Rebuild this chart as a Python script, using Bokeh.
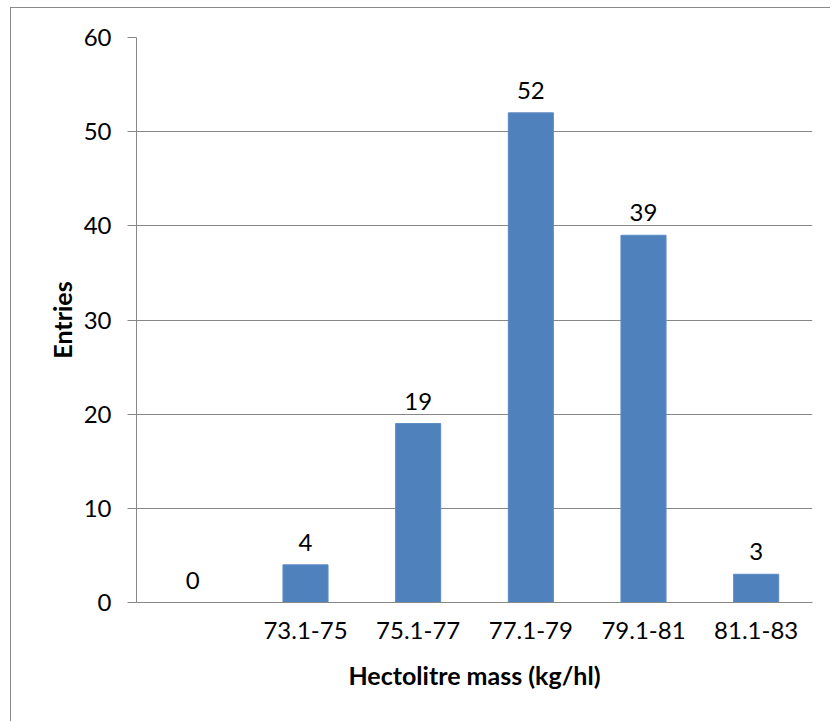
from bokeh.plotting import figure
from bokeh.models import ColumnDataSource, FixedTicker, Range1d, InlineStyleSheet
from bokeh.core.properties import value
from bokeh.embed import file_html
from bokeh.resources import INLINE

# Hectolitre mass classes and number of entries in each
classes = ["", "73.1-75", "75.1-77", "77.1-79", "79.1-81", "81.1-83"]
entries = [0, 4, 19, 52, 39, 3]
y_ticks = [0, 10, 20, 30, 40, 50, 60]

FONT = "Lato"
GREY = "#878787"

pos = list(range(len(classes)))
src = ColumnDataSource(dict(x=pos, y=entries, lbl=[str(v) for v in entries]))

p = figure(width=820, height=714, output_backend="svg", toolbar_location=None,
           x_range=Range1d(-0.5, len(classes) - 0.5), y_range=Range1d(0, 60),
           min_border_left=125, min_border_right=19, min_border_top=29,
           min_border_bottom=120)
p.margin = (7, 0, 0, 10)
p.stylesheets = [InlineStyleSheet(css=":host { border-left: 1px solid #8a8a8a; border-top: 1px solid #8a8a8a; }")]
p.outline_line_color = None
p.background_fill_color = "white"
p.border_fill_color = "white"

p.vbar(x="x", top="y", width=0.4, source=src, fill_color="#4F81BD", line_color="#5B8BC4")
p.text(x="x", y="y", text="lbl", source=src, text_align="center", text_baseline="bottom",
       y_offset=-14, text_font=value(FONT), text_font_size="24px", text_color="black")

# x axis: category labels, no tick marks
p.xaxis.ticker = FixedTicker(ticks=pos)
p.xaxis.major_label_overrides = {i: c for i, c in enumerate(classes)}
p.xaxis.major_tick_line_color = None
p.xaxis.minor_tick_line_color = None
p.xaxis.axis_line_color = GREY
p.xaxis.major_label_standoff = 13
p.xaxis.axis_label = "Hectolitre mass (kg/hl)"
p.xaxis.axis_label_standoff = 18

# y axis
p.yaxis.ticker = FixedTicker(ticks=y_ticks)
p.yaxis.major_tick_out = 9
p.yaxis.major_tick_in = 0
p.yaxis.minor_tick_line_color = None
p.yaxis.axis_line_color = GREY
p.yaxis.major_tick_line_color = GREY
p.yaxis.major_label_standoff = 16
p.yaxis.axis_label = "Entries"
p.yaxis.axis_label_standoff = 4

for ax in (p.xaxis, p.yaxis):
    ax.major_label_text_font = FONT
    ax.major_label_text_font_size = "24px"
    ax.major_label_text_color = "black"
    ax.axis_label_text_font = FONT
    ax.axis_label_text_font_size = "25px"
    ax.axis_label_text_font_style = "bold"
    ax.axis_label_text_color = "black"

p.xgrid.grid_line_color = None
p.ygrid.ticker = FixedTicker(ticks=y_ticks)
p.ygrid.grid_line_color = GREY

open("out.html", "w").write(file_html(p, INLINE))
